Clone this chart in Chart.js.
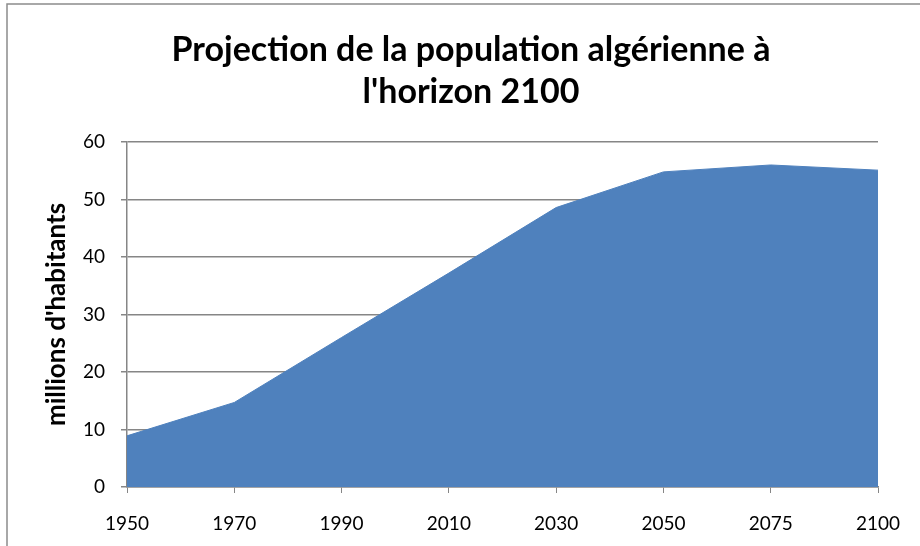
<!DOCTYPE html>
<html>
<head>
<meta charset="utf-8">
<script src="https://cdn.jsdelivr.net/npm/chart.js@4/dist/chart.umd.min.js"></script>
<style>
  html, body { margin: 0; padding: 0; background: #fff; }
  #wrap { width: 920px; height: 546px; position: relative; }
</style>
</head>
<body>
<div id="wrap"><canvas id="popChart"></canvas></div>
<script>
// data
const years = ['1950', '1970', '1990', '2010', '2030', '2050', '2075', '2100'];
const population = [8.9, 14.7, 26.0, 37.2, 48.6, 54.8, 56.0, 55.1];
const yTicks = [0, 10, 20, 30, 40, 50, 60];

const chartTitle = ['Projection de la population algérienne à', "l'horizon 2100"];
const yTitle = "millions d'habitants";

const FONT = "Lato, 'Open Sans', sans-serif";
const GRID = '#868686';

// outer frame like the spreadsheet chart box, title centred on that box
const frame = {
  id: 'frame',
  afterLayout(chart) {
    if (chart.titleBlock) {
      chart.titleBlock.left = 7;
      chart.titleBlock.right = 935;
    }
  },
  beforeDraw(chart) {
    const ctx = chart.ctx;
    ctx.save();
    ctx.fillStyle = '#fff';
    ctx.fillRect(0, 0, chart.width, chart.height);
    ctx.strokeStyle = '#8c8c8c';
    ctx.lineWidth = 1.5;
    ctx.strokeRect(7, 4, 1000, 1000);
    ctx.restore();
  }
};

new Chart(document.getElementById('popChart'), {
  type: 'line',
  data: {
    labels: years,
    datasets: [{
      data: population,
      fill: 'origin',
      backgroundColor: '#4f81bd',
      borderColor: '#4f81bd',
      borderWidth: 1,
      pointRadius: 0,
      tension: 0
    }]
  },
  options: {
    responsive: true,
    maintainAspectRatio: false,
    animation: false,
    layout: { padding: { left: 10, right: 42, top: 29, bottom: 0 } },
    plugins: {
      legend: { display: false },
      tooltip: { enabled: false },
      title: {
        display: true,
        text: chartTitle,
        color: '#000',
        font: { family: FONT, size: 34, weight: 'bold', lineHeight: 1.235 },
        padding: { top: 0, bottom: 29 }
      }
    },
    scales: {
      x: {
        type: 'category',
        offset: false,
        grid: {
          display: true,
          drawOnChartArea: false,
          color: GRID,
          tickColor: GRID,
          tickLength: 6
        },
        border: { color: GRID, width: 1.5 },
        ticks: {
          color: '#000',
          font: { family: FONT, size: 19 },
          padding: 19,
          maxRotation: 0,
          autoSkip: false
        },
        afterFit(scale) { scale.height = 59; }
      },
      y: {
        min: 0,
        max: 60,
        afterBuildTicks(scale) { scale.ticks = yTicks.map(v => ({ value: v })); },
        grid: {
          color: GRID,
          lineWidth: 1.5,
          tickColor: GRID,
          tickLength: 6
        },
        border: { color: GRID, width: 1.5 },
        ticks: {
          color: '#000',
          font: { family: FONT, size: 19 },
          padding: 16
        },
        title: {
          display: true,
          text: yTitle,
          color: '#000',
          font: { family: FONT, size: 26, weight: 'bold' },
          padding: { top: 31, bottom: 0 }
        },
        afterFit(scale) { scale.width = 117; }
      }
    }
  },
  plugins: [frame]
});
</script>
</body>
</html>
